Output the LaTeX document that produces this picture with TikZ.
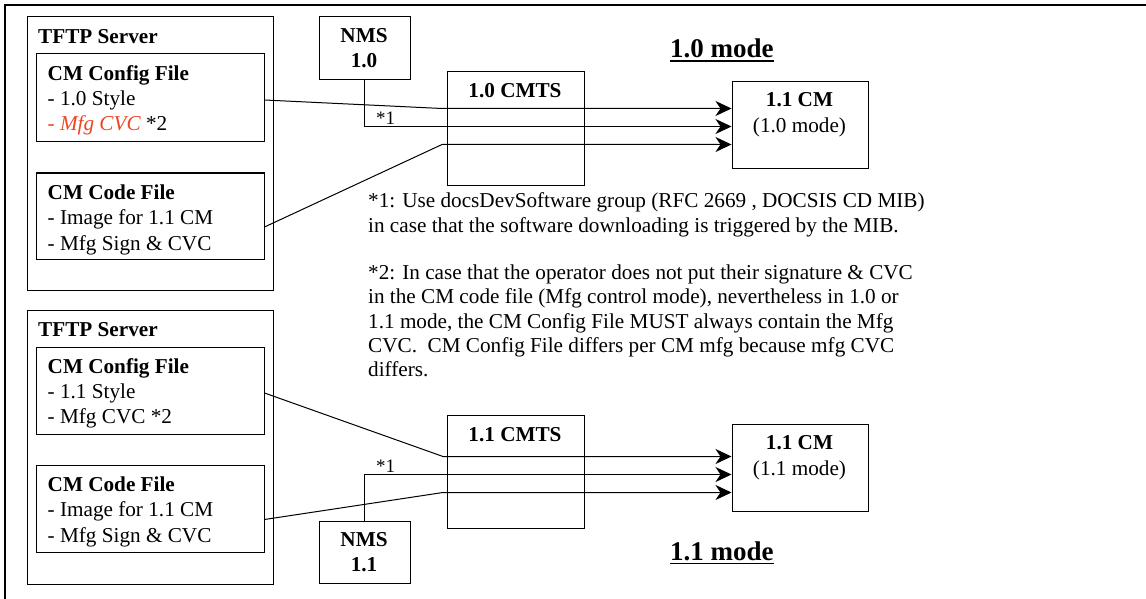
\documentclass[tikz,border=0pt]{standalone}
\usepackage{fontspec}
\setmainfont{Liberation Serif}
\usetikzlibrary{arrows.meta,calc}
\definecolor{mfgred}{RGB}{235,70,35}
\begin{document}
\begin{tikzpicture}[x=1pt,y=-1pt,
  box/.style={draw,line width=1pt,inner sep=0pt,anchor=north west},
  txt/.style={inner sep=0pt,anchor=base west,font=\fontsize{21.2}{24}\selectfont},
  ctxt/.style={inner sep=0pt,anchor=base,font=\fontsize{21.2}{24}\selectfont},
  ttl/.style={inner sep=0pt,anchor=base west,font=\fontsize{27}{30}\selectfont\bfseries},
  star/.style={inner sep=0pt,anchor=base west,font=\fontsize{19}{21}\selectfont},
  conn/.style={line width=1pt,-{Stealth[length=16pt,width=15pt,inset=5pt]}},
  uline/.style={line width=1.5pt}]
\useasboundingbox (0,0) rectangle (1146,599);
% outer frame (cropped)
\draw[line width=2pt] (5,599) -- (5,5) -- (1146,5);

% ---------- top: 1.0 mode ----------
\node[box,minimum width=246pt,minimum height=273pt] (srv1) at (26.5,16.5) {};
\node[box,minimum width=228pt,minimum height=88pt] (cfg1) at (35.5,53.5) {};
\node[box,minimum width=228pt,minimum height=86pt] (code1) at (35.5,172.5) {};
\node[box,minimum width=91pt,minimum height=63pt] (nms1) at (318.5,16.5) {};
\node[box,minimum width=137pt,minimum height=113pt] (cmts1) at (446.5,71.5) {};
\node[box,minimum width=136pt,minimum height=87pt] (cm1) at (731.5,81.5) {};

\node[txt] (srv1t) at (38,43.5) {\bfseries TFTP Server};
\node[txt] (cfg1a) at (47.5,80.5) {\bfseries CM Config File};
\node[txt] (cfg1b) at (47.5,105.5) {- 1.0 Style};
\node[txt] (cfg1c) at (47.5,130.5) {{\color{mfgred}- \itshape Mfg CVC} *2};
\node[txt] (code1a) at (47.5,199) {\bfseries CM Code File};
\node[txt] (code1b) at (47.5,224.5) {- Image for 1.1 CM};
\node[txt] (code1c) at (47.5,250) {- Mfg Sign \& CVC};
\node[ctxt] (nms1a) at (364,43) {\bfseries NMS};
\node[ctxt] (nms1b) at (364,68) {\bfseries 1.0};
\node[ctxt] (cmts1t) at (515,98) {\bfseries 1.0 CMTS};
\node[ctxt] (cm1a) at (799.5,107) {\bfseries 1.1 CM};
\node[ctxt] (cm1b) at (799.5,133) {(1.0 mode)};
\node[ttl] (mode1) at (670,57.5) {1.0 mode};
\draw[uline] ($(mode1.base west)+(0,3.5)$) -- ($(mode1.base east)+(0,3.5)$);

\coordinate (b1) at (442,108.5);
\coordinate (h1) at (0,126.5);
\coordinate (b3) at (442,144.5);
\draw[conn] ([yshift=-2pt]cfg1.east) -- (b1) -- (b1 -| cm1.west);
\draw[conn] (nms1.south) |- (cm1.west |- h1);
\draw[conn] ([yshift=-11pt]code1.east) -- (b3) -- (b3 -| cm1.west);
\node[star] (s1) at (376,125) {*1};

% ---------- notes ----------
\node[txt] (n1) at (368,207) {*1: Use docsDevSoftware group (RFC 2669 , DOCSIS CD MIB)};
\node[txt] (n2) at (368,232) {in case that the software downloading is triggered by the MIB.};
\node[txt] (n3) at (368,279) {*2: In case that the operator does not put their signature \& CVC};
\node[txt] (n4) at (368,303.5) {in the CM code file (Mfg control mode), nevertheless in 1.0 or};
\node[txt] (n5) at (368,328) {1.1 mode, the CM Config File MUST always contain the Mfg};
\node[txt] (n6) at (368,352.5) {CVC.\ \ CM Config File differs per CM mfg because mfg CVC};
\node[txt] (n7) at (368,376.5) {differs.};

% ---------- bottom: 1.1 mode ----------
\node[box,minimum width=246pt,minimum height=274pt] (srv2) at (26.5,309.5) {};
\node[box,minimum width=228pt,minimum height=87pt] (cfg2) at (35.5,346.5) {};
\node[box,minimum width=228pt,minimum height=87pt] (code2) at (35.5,464.5) {};
\node[box,minimum width=91pt,minimum height=62pt] (nms2) at (318.5,520.5) {};
\node[box,minimum width=137pt,minimum height=113pt] (cmts2) at (446.5,414.5) {};
\node[box,minimum width=136pt,minimum height=87pt] (cm2) at (731.5,423.5) {};

\node[txt] (srv2t) at (38,336.5) {\bfseries TFTP Server};
\node[txt] (cfg2a) at (47.5,373.5) {\bfseries CM Config File};
\node[txt] (cfg2b) at (47.5,398.5) {- 1.1 Style};
\node[txt] (cfg2c) at (47.5,423.5) {- Mfg CVC *2};
\node[txt] (code2a) at (47.5,491) {\bfseries CM Code File};
\node[txt] (code2b) at (47.5,516.5) {- Image for 1.1 CM};
\node[txt] (code2c) at (47.5,542) {- Mfg Sign \& CVC};
\node[ctxt] (nms2a) at (364,546.5) {\bfseries NMS};
\node[ctxt] (nms2b) at (364,571.5) {\bfseries 1.1};
\node[ctxt] (cmts2t) at (515,441.5) {\bfseries 1.1 CMTS};
\node[ctxt] (cm2a) at (799.5,449.5) {\bfseries 1.1 CM};
\node[ctxt] (cm2b) at (799.5,475.5) {(1.1 mode)};
\node[ttl] (mode2) at (670,560) {1.1 mode};
\draw[uline] ($(mode2.base west)+(0,3.5)$) -- ($(mode2.base east)+(0,3.5)$);

\coordinate (b4) at (443,456.5);
\coordinate (h2) at (0,474.5);
\coordinate (b6) at (443,492.5);
\draw[conn] ([yshift=-2.5pt]cfg2.east) -- (b4) -- (b4 -| cm2.west);
\draw[conn] (nms2.north) |- (cm2.west |- h2);
\draw[conn] ([yshift=-11pt]code2.east) -- (b6) -- (b6 -| cm2.west);
\node[star] (s2) at (376,472) {*1};
\end{tikzpicture}
\end{document}
